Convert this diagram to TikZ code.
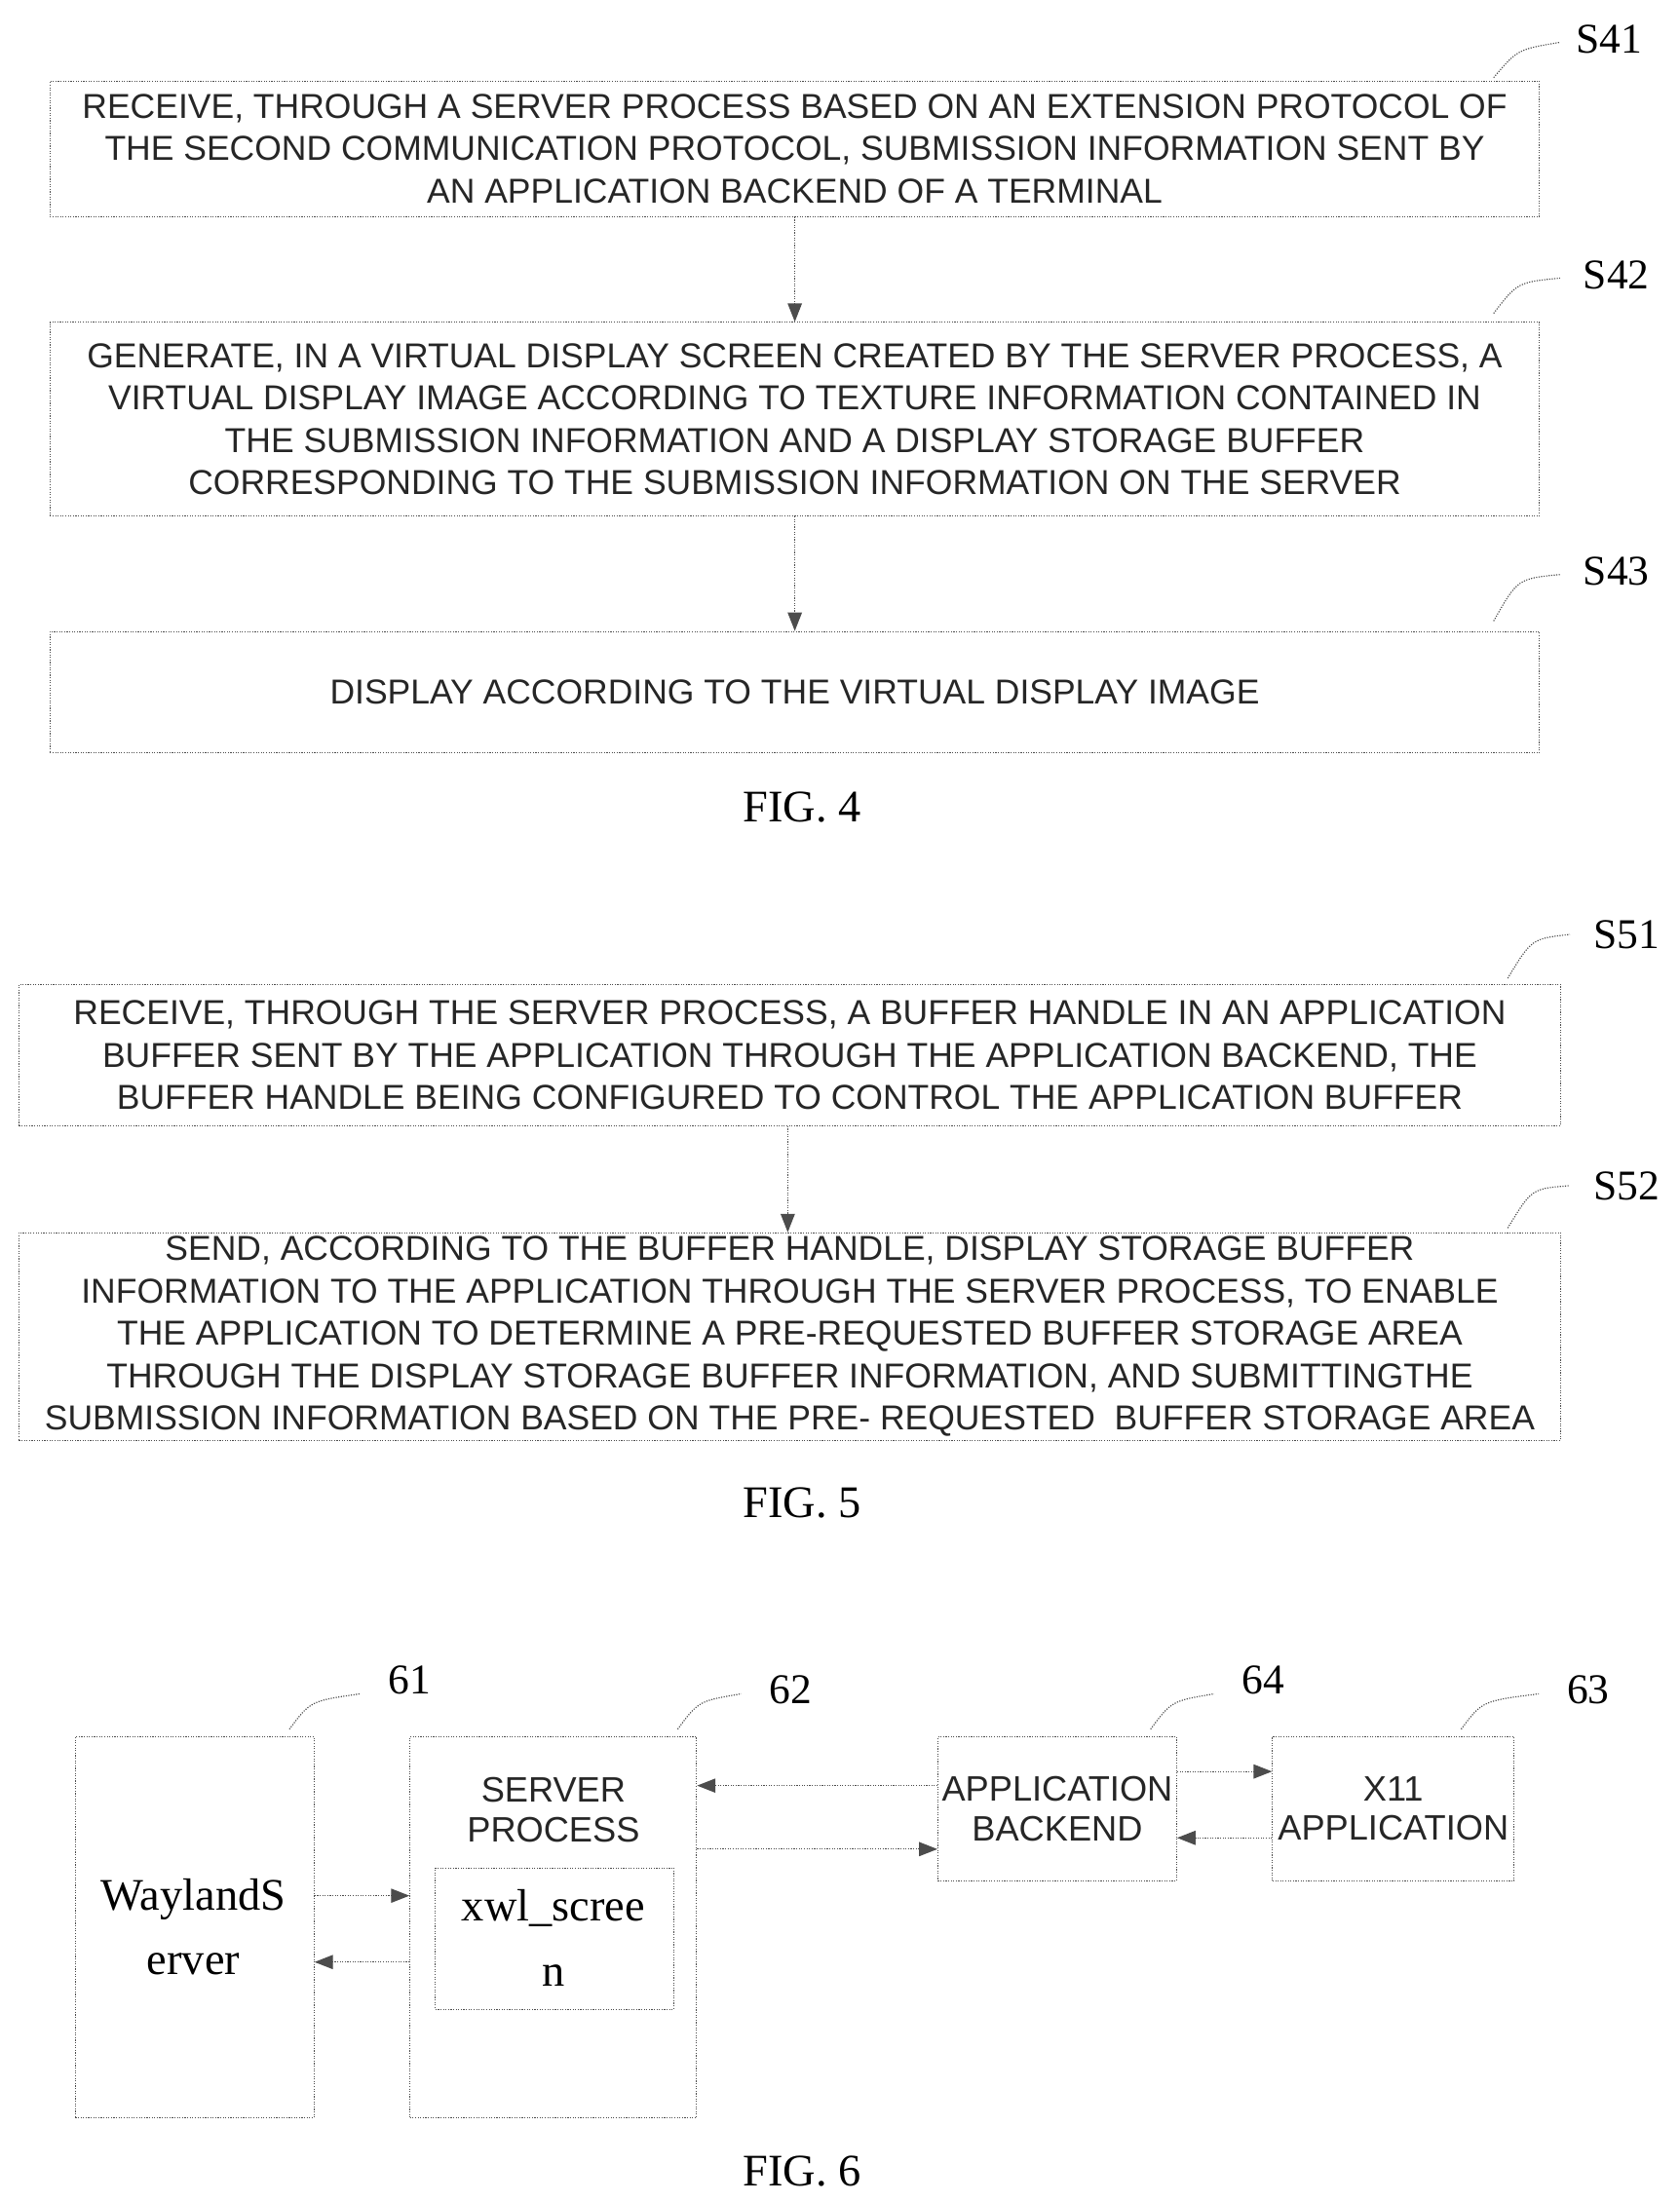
\documentclass[tikz,border=0pt]{standalone}
\usepackage{fontspec}
\setmainfont{Liberation Serif}
\setsansfont{Liberation Sans}
\usetikzlibrary{arrows.meta}
\begin{document}
\begin{tikzpicture}[x=1pt,y=-1pt,
 box/.style={draw=black!70,densely dotted,line width=0.8pt,inner sep=0pt},
 txt/.style={font=\sffamily\fontsize{24.5}{30}\selectfont,align=center,text=black!85},
 lab/.style={font=\fontsize{30}{32}\selectfont},
 arr/.style={draw=black!70,densely dotted,line width=0.8pt,-{Triangle[length=13pt,width=10pt]}},
 sq/.style={draw=black!70,densely dotted,line width=0.8pt},
 figcap/.style={font=\fontsize{32}{34}\selectfont}]
\useasboundingbox (0,0) rectangle (1190,1560);
% FIG 4
\node[box,minimum width=1055,minimum height=96,anchor=north west] (a1) at (35,57) {};
\node[txt] at (a1) {RECEIVE, THROUGH A SERVER PROCESS BASED ON AN EXTENSION PROTOCOL OF\\THE SECOND COMMUNICATION PROTOCOL, SUBMISSION INFORMATION SENT BY\\AN APPLICATION BACKEND OF A TERMINAL};
\node[box,minimum width=1055,minimum height=137,anchor=north west] (a2) at (35,228) {};
\node[txt] at (a2) {GENERATE, IN A VIRTUAL DISPLAY SCREEN CREATED BY THE SERVER PROCESS, A\\VIRTUAL DISPLAY IMAGE ACCORDING TO TEXTURE INFORMATION CONTAINED IN\\THE SUBMISSION INFORMATION AND A DISPLAY STORAGE BUFFER\\CORRESPONDING TO THE SUBMISSION INFORMATION ON THE SERVER};
\node[box,minimum width=1055,minimum height=86,anchor=north west] (a3) at (35,447) {};
\node[txt] at (a3) {DISPLAY ACCORDING TO THE VIRTUAL DISPLAY IMAGE};
\node[lab] (l41) at (1140,28) {S41};
\node[lab] (l42) at (1145,195) {S42};
\node[lab] (l43) at (1145,405) {S43};
\draw[sq] (1058,55) .. controls (1075,35) .. (1105,30);
\draw[sq] (1058,222) .. controls (1075,200) .. (1105,197);
\draw[sq] (1058,440) .. controls (1075,410) .. (1105,407);
\draw[arr] (a1.south-|563,0) -- (a2.north-|563,0);
\draw[arr] (a2.south-|563,0) -- (a3.north-|563,0);
\node[figcap] at (568,572) {FIG. 4};
% FIG 5
\node[box,minimum width=1092,minimum height=100,anchor=north west] (b1) at (13,697) {};
\node[txt] at (b1) {RECEIVE, THROUGH THE SERVER PROCESS, A BUFFER HANDLE IN AN APPLICATION\\BUFFER SENT BY THE APPLICATION THROUGH THE APPLICATION BACKEND, THE\\BUFFER HANDLE BEING CONFIGURED TO CONTROL THE APPLICATION BUFFER};
\node[box,minimum width=1092,minimum height=147,anchor=north west] (b2) at (13,873) {};
\node[txt] at (b2) {SEND, ACCORDING TO THE BUFFER HANDLE, DISPLAY STORAGE BUFFER\\INFORMATION TO THE APPLICATION THROUGH THE SERVER PROCESS, TO ENABLE\\THE APPLICATION TO DETERMINE A PRE-REQUESTED BUFFER STORAGE AREA\\THROUGH THE DISPLAY STORAGE BUFFER INFORMATION, AND SUBMITTINGTHE\\SUBMISSION INFORMATION BASED ON THE PRE- REQUESTED \ BUFFER STORAGE AREA};
\node[lab] (l51) at (1152,662) {S51};
\node[lab] (l52) at (1152,840) {S52};
\draw[sq] (1068,693) .. controls (1085,665) .. (1112,662);
\draw[sq] (1068,870) .. controls (1085,842) .. (1112,840);
\draw[arr] (b1.south-|558,0) -- (b2.north-|558,0);
\node[figcap] at (568,1065) {FIG. 5};
% FIG 6
\node[box,minimum width=169,minimum height=270,anchor=north west] (c61) at (53,1230) {};
\node[font=\fontsize{32}{46}\selectfont,align=center] at (137,1365) {WaylandS\\erver};
\node[box,minimum width=203,minimum height=270,anchor=north west] (c62) at (290,1230) {};
\node[txt,font=\sffamily\fontsize{25}{28}\selectfont] at (392,1282) {SERVER\\PROCESS};
\node[box,minimum width=169,minimum height=100,anchor=north west] (c62i) at (308,1323) {};
\node[font=\fontsize{32}{46}\selectfont,align=center] at (392,1373) {xwl\_scree\\n};
\node[box,minimum width=169,minimum height=102,anchor=north west] (c64) at (664,1230) {};
\node[txt,font=\sffamily\fontsize{25}{28}\selectfont] at (c64) {APPLICATION\\BACKEND};
\node[box,minimum width=171,minimum height=102,anchor=north west] (c63) at (901,1230) {};
\node[txt,font=\sffamily\fontsize{25}{28}\selectfont] at (c63) {X11\\APPLICATION};
\node[lab] at (290,1190) {61};
\node[lab] at (560,1197) {62};
\node[lab] at (895,1190) {64};
\node[lab] at (1125,1197) {63};
\draw[sq] (205,1225) .. controls (220,1205) .. (255,1200);
\draw[sq] (480,1225) .. controls (495,1205) .. (525,1200);
\draw[sq] (815,1225) .. controls (830,1205) .. (860,1200);
\draw[sq] (1035,1225) .. controls (1050,1205) .. (1090,1200);
\draw[arr] (c64.west|-0,1265) -- (c62.east|-0,1265);
\draw[arr] (c62.east|-0,1310) -- (c64.west|-0,1310);
\draw[arr] (c64.east|-0,1255) -- (c63.west|-0,1255);
\draw[arr] (c63.west|-0,1302) -- (c64.east|-0,1302);
\draw[arr] (c61.east|-0,1343) -- (c62.west|-0,1343);
\draw[arr] (c62.west|-0,1390) -- (c61.east|-0,1390);
\node[figcap] at (568,1538) {FIG. 6};
\end{tikzpicture}
\end{document}
